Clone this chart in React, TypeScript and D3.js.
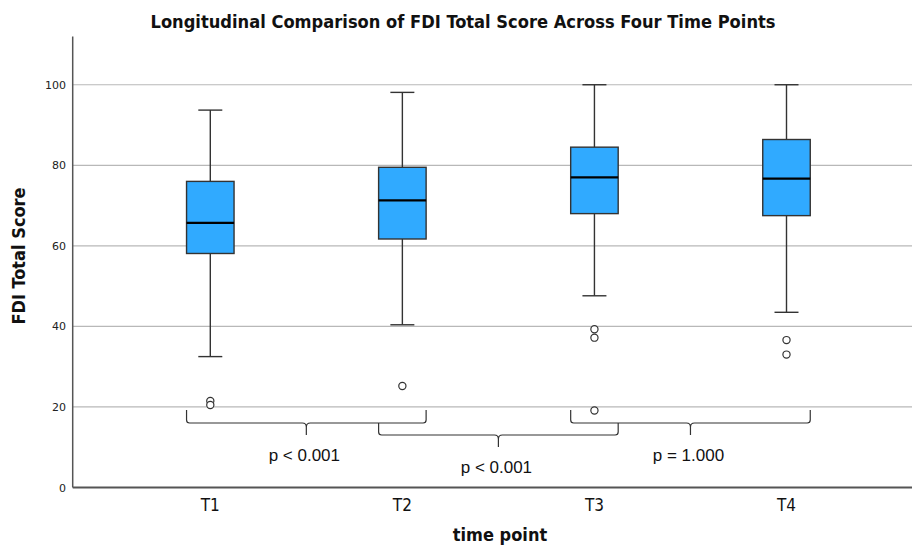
import React from 'react';
import * as d3 from 'd3';

// box plot summary
const categories = ['T1', 'T2', 'T3', 'T4'];
const whiskerLow = [32.5, 40.4, 47.6, 43.5];
const q1 = [58.1, 61.7, 68.0, 67.5];
const median = [65.7, 71.3, 77.0, 76.7];
const q3 = [76.0, 79.5, 84.5, 86.4];
const whiskerHigh = [93.7, 98.1, 100, 100];
const outliers = [[21.5, 20.5], [25.2], [39.3, 37.2, 19.1], [36.6, 33.0]];
const yTicks = [0, 20, 40, 60, 80, 100];

// pairwise comparisons under the boxes
const compareFrom = ['T1', 'T2', 'T3'];
const compareTo = ['T2', 'T3', 'T4'];
const pLabels = ['p < 0.001', 'p < 0.001', 'p = 1.000'];
const bracketLevel = [0, 1, 0];

const W = 912;
const H = 548;
const left = 72.7;
const narrow = "'DejaVu Sans Condensed', 'Liberation Sans Narrow', 'Open Sans', sans-serif";

const App = () => {
  const x = d3.scalePoint<string>().domain(categories).range([210.3, 786.5]);
  const y = d3.scaleLinear().domain([0, 112]).range([487.5, 36.4]);
  const boxW = 47.5;
  const capW = 24;
  const stroke = '#333';

  const bracketPath = (x1: number, x2: number, top: number, h: number, tip: number) => {
    const cx = (x1 + x2) / 2;
    return `M${x1},${top} V${h - 3} Q${x1},${h} ${x1 + 3},${h} H${cx - 4} Q${cx},${h} ${cx},${h + 4} V${tip}`
      + ` M${cx},${h + 4} Q${cx},${h} ${cx + 4},${h} H${x2 - 3} Q${x2},${h} ${x2},${h - 3} V${top}`;
  };

  return (
    <svg width={W} height={H} style={{ position: 'absolute', left: 0, top: 0, background: '#fff' }}>
      <text x={463} y={28} textAnchor="middle" fontFamily={narrow} fontWeight="bold"
        fontSize={17} textLength={625} lengthAdjust="spacingAndGlyphs" fill="#111">
        Longitudinal Comparison of FDI Total Score Across Four Time Points
      </text>

      {/* grid */}
      {yTicks.filter(t => t > 0).map(t => (
        <line key={`g${t}`} x1={left} x2={W} y1={y(t)} y2={y(t)} stroke="#b8b8b8" strokeWidth={1.2} />
      ))}
      {yTicks.map(t => (
        <text key={`t${t}`} x={66} y={y(t) + 4} textAnchor="end" fontFamily="'DejaVu Sans', sans-serif"
          fontSize={11} fill="#222">{t}</text>
      ))}

      {/* axes */}
      <line x1={left} x2={left} y1={y(112)} y2={y(0)} stroke="#555" strokeWidth={1.5} />
      <line x1={left} x2={W} y1={y(0)} y2={y(0)} stroke="#555" strokeWidth={2} />

      {/* boxes */}
      {categories.map((c, i) => {
        const cx = x(c) as number;
        return (
          <g key={c}>
            <line x1={cx} x2={cx} y1={y(whiskerHigh[i])} y2={y(q3[i])} stroke={stroke} strokeWidth={1.4} />
            <line x1={cx} x2={cx} y1={y(q1[i])} y2={y(whiskerLow[i])} stroke={stroke} strokeWidth={1.4} />
            <line x1={cx - capW / 2} x2={cx + capW / 2} y1={y(whiskerHigh[i])} y2={y(whiskerHigh[i])} stroke={stroke} strokeWidth={1.4} />
            <line x1={cx - capW / 2} x2={cx + capW / 2} y1={y(whiskerLow[i])} y2={y(whiskerLow[i])} stroke={stroke} strokeWidth={1.4} />
            <rect x={cx - boxW / 2} y={y(q3[i])} width={boxW} height={y(q1[i]) - y(q3[i])}
              fill="#30aaff" stroke={stroke} strokeWidth={1.4} />
            <line x1={cx - boxW / 2} x2={cx + boxW / 2} y1={y(median[i])} y2={y(median[i])} stroke="#000" strokeWidth={2.2} />
            {outliers[i].map((o, k) => (
              <circle key={k} cx={cx} cy={y(o)} r={3.6} fill="#fff" stroke={stroke} strokeWidth={1.2} />
            ))}
            <text x={cx} y={511} textAnchor="middle" fontFamily={narrow} fontSize={17} fill="#111">{c}</text>
          </g>
        );
      })}

      {/* comparison brackets */}
      {compareFrom.map((a, i) => {
        const x1 = (x(a) as number) - boxW / 2;
        const x2 = (x(compareTo[i]) as number) + boxW / 2;
        const lvl = bracketLevel[i];
        const top = lvl === 0 ? 410 : 423;
        const h = lvl === 0 ? 423 : 435;
        const tip = h + 12;
        return (
          <g key={`b${i}`}>
            <path d={bracketPath(x1, x2, top, h, tip)} fill="none" stroke={stroke} strokeWidth={1.2} />
            <text x={(x1 + x2) / 2 - 2} y={tip + 26} textAnchor="middle" fontFamily="'Liberation Sans', Arial, sans-serif"
              fontSize={17} fill="#111">{pLabels[i]}</text>
          </g>
        );
      })}

      <text transform="translate(25,256) rotate(-90)" textAnchor="middle" fontFamily={narrow}
        fontWeight="bold" fontSize={18} fill="#111">FDI Total Score</text>
      <text x={500} y={541} textAnchor="middle" fontFamily={narrow} fontWeight="bold"
        fontSize={18} fill="#111">time point</text>
    </svg>
  );
};

export default App;
